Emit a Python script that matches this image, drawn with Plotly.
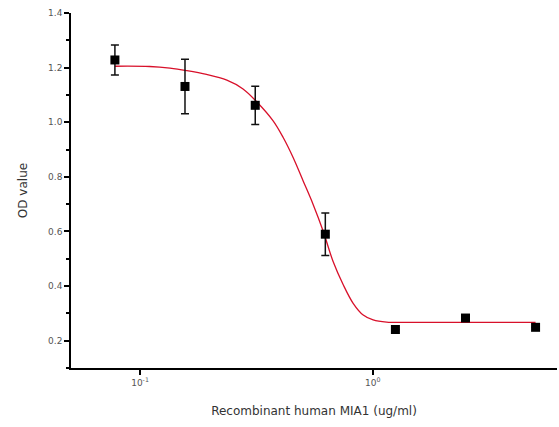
import plotly.graph_objects as go

# Measured data
conc = [0.078, 0.156, 0.3125, 0.625, 1.25, 2.5, 5.0]
od = [1.228, 1.131, 1.062, 0.590, 0.241, 0.283, 0.249]
od_err = [0.055, 0.100, 0.070, 0.078, 0.0, 0.0, 0.0]

# Fitted curve
fit_x = [0.078, 0.110, 0.1345, 0.1585, 0.193, 0.236, 0.277, 0.317, 0.373, 0.412,
         0.455, 0.502, 0.554, 0.612, 0.675, 0.746, 0.823, 0.909, 1.003, 1.146,
         1.44, 2.5, 5.0]
fit_y = [1.205, 1.204, 1.198, 1.189, 1.175, 1.154, 1.122, 1.075, 1.005, 0.944,
         0.870, 0.785, 0.699, 0.601, 0.49, 0.405, 0.337, 0.294, 0.276, 0.268,
         0.267, 0.267, 0.267]

x_tickvals = [0.1, 1]
x_ticktext = ["10<sup>-1</sup>", "10<sup>0</sup>"]
y_tickvals = [0.2, 0.4, 0.6, 0.8, 1.0, 1.2, 1.4]
y_ticktext = ["0.2", "0.4", "0.6", "0.8", "1.0", "1.2", "1.4"]

fig = go.Figure()
fig.add_trace(go.Scatter(
    x=fit_x, y=fit_y, mode="lines",
    line=dict(color="#d8102a", width=1.3, shape="spline", smoothing=1.0),
    hoverinfo="skip", showlegend=False))
fig.add_trace(go.Scatter(
    x=conc, y=od, mode="markers",
    marker=dict(symbol="square", size=9, color="black"),
    error_y=dict(type="data", array=od_err, visible=True, color="#111111",
                 thickness=1.5, width=4),
    showlegend=False))

font_family = "DejaVu Sans, Liberation Sans, Arial, sans-serif"
fig.update_layout(
    width=559, height=427,
    margin=dict(l=71, r=2, t=13, b=59, autoexpand=False),
    paper_bgcolor="white", plot_bgcolor="white",
    font=dict(family=font_family, color="#333333"),
    xaxis=dict(
        type="log", range=[-1.2965, 0.791], automargin=False,
        tickvals=x_tickvals, ticktext=x_ticktext,
        ticks="outside", ticklen=5, tickwidth=1.5, tickcolor="black",
        showline=True, linecolor="black", linewidth=1.5,
        showgrid=False, zeroline=False,
        tickfont=dict(size=9, color="#555555"),
        title=dict(text="Recombinant human MIA1 (ug/ml)",
                   font=dict(size=12, color="#333333"), standoff=20),
    ),
    yaxis=dict(
        range=[0.1, 1.4], automargin=False,
        tickvals=y_tickvals, ticktext=y_ticktext,
        ticks="outside", ticklen=5, tickwidth=1.5, tickcolor="black",
        minor=dict(ticks="outside", dtick=0.1, tick0=0.1, ticklen=3, tickcolor="black"),
        showline=True, linecolor="black", linewidth=1.5,
        showgrid=False, zeroline=False,
        tickfont=dict(size=9, color="#555555"),
        title=dict(text="OD value", font=dict(size=12, color="#333333"), standoff=18),
    ),
)

fig.write_html(
    "out.html",
    config={"displayModeBar": False},
    post_script="document.body.style.margin='0';document.body.style.overflow='hidden';",
)
